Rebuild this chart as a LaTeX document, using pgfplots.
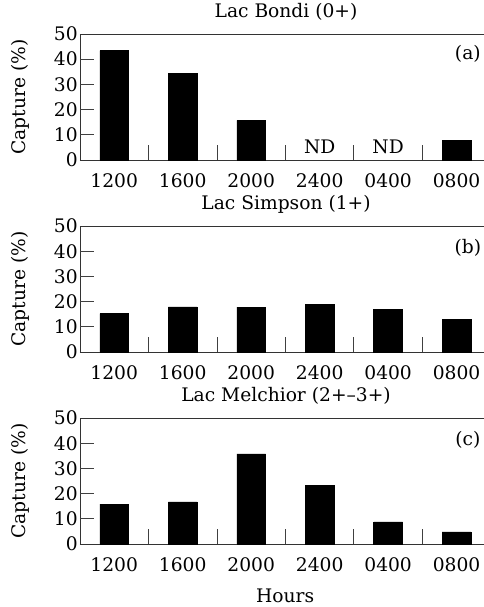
\documentclass[border=0pt]{standalone}
\usepackage{fontspec}
\setmainfont{DejaVu Serif}
\usepackage{pgfplots}
\pgfplotsset{compat=1.18}

% 1 px of the reference = 0.75pt
\pgfplotsset{
  lacpanel/.style={
    width=303pt, height=94.5pt, scale only axis,
    xmin=-0.5, xmax=5.4, ymin=0, ymax=50,
    axis x line*=box, axis y line*=left,
    axis line style={black!80, line width=0.7pt},
    every tick/.style={black!75, line width=0.6pt},
    /pgf/number format/assume math mode=true,
    major tick length=0pt,
    ytick={0,10,...,50}, ytick pos=left,
    xtick={0,...,5}, xtick pos=bottom,
    xticklabels={1200,1600,2000,2400,0400,0800},
    extra x ticks={0.5,1.5,...,4.5}, extra x tick labels={},
    extra x tick style={major tick length=11.25pt, tick align=inside},
    extra y ticks={10,20,30,40}, extra y tick labels={},
    extra y tick style={major tick length=10.5pt, tick align=inside},
    xticklabel style={anchor=base, yshift=-20.25pt},
    yticklabel style={inner xsep=1.5pt},
    ylabel={Capture (\%)},
    ylabel style={at={(-0.1485,0.5)}, anchor=center},
    title style={at={(0.51,1.071)}, anchor=base},
    ybar, bar width=0.42,
  },
}

\begin{document}
\fontsize{14}{17}\selectfont
\begin{tikzpicture}
\useasboundingbox (-60pt,120pt) rectangle (303pt,-335.25pt);

\begin{axis}[lacpanel, at={(0pt,0pt)}, anchor=south west, title={Lac Bondi (0+)}]
  \addplot[fill=black, draw=black] coordinates {(0,43.4) (1,34.4) (2,15.7) (5,7.9)};
  \node[anchor=base] at (axis cs:3,2.4) {ND};
  \node[anchor=base] at (axis cs:4,2.4) {ND};
  \node at (axis description cs:0.96,0.84) {(a)};
\end{axis}

\begin{axis}[lacpanel, at={(0pt,-144pt)}, anchor=south west, title={Lac Simpson (1+)}]
  \addplot[fill=black, draw=black] coordinates {(0,15.2) (1,17.9) (2,17.8) (3,19.0) (4,16.8) (5,12.8)};
  \node at (axis description cs:0.96,0.83) {(b)};
\end{axis}

\begin{axis}[lacpanel, at={(0pt,-288pt)}, anchor=south west, title={Lac Melchior (2+--3+)},
  xlabel={Hours}, xlabel style={at={(0.508,-0.468)}, anchor=base}]
  \addplot[fill=black, draw=black] coordinates {(0,15.8) (1,16.7) (2,35.8) (3,23.2) (4,8.8) (5,4.8)};
  \node at (axis description cs:0.96,0.83) {(c)};
\end{axis}
\end{tikzpicture}
\end{document}
